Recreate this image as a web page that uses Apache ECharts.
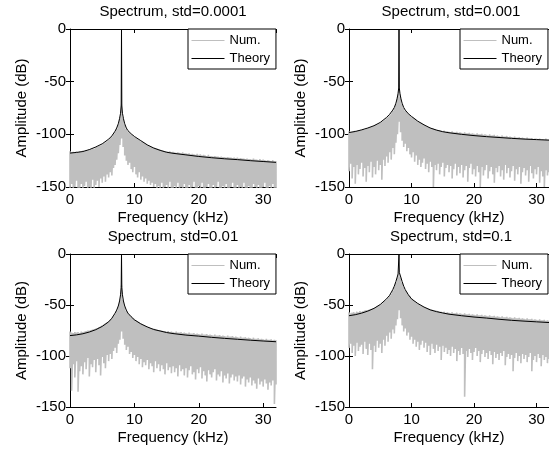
<!DOCTYPE html>
<html><head><meta charset="utf-8">
<script src="https://cdn.jsdelivr.net/npm/echarts@6/dist/echarts.min.js"></script>
<style>html,body{margin:0;padding:0;background:#fff}#c{width:549px;height:450px}</style>
</head><body><div id="c"></div>
<script>
// ---------------- data ----------------
const plotTitles = ['Spectrum, std=0.0001', 'Spectrum, std=0.001', 'Spectrum, std=0.01', 'Spectrum, std=0.1'];
const seriesNames = ['Num.', 'Theory'];
const xAxisName = 'Frequency (kHz)';
const yAxisName = 'Amplitude (dB)';
const xMin = 0, xMax = 32, xStep = 10;
const yMin = -150, yMax = 0, yStep = 50;
const numStepKHz = 0.25; // spacing of the numerical spectrum samples (kHz)

// Theory curve frequencies (kHz)
const thFreq = [0,1,2,3,4,5,6,6.5,7,7.25,7.5,7.7,7.85,7.95,8,8.05,8.15,8.3,8.5,8.75,9,9.5,10,11,12,13,14,15,16,18,20,22,24,26,28,30,32];
const theory1 = [-117.8,-117.2,-116.3,-114.5,-112,-109,-104.6,-101.5,-97,-94,-90,-85,-80,-73,0,-73,-80,-85,-90,-94,-96.5,-99.5,-102,-106,-110,-113,-115.2,-117,-118,-119.5,-121,-122.2,-123.2,-124,-125,-125.8,-126.6];
const theory2 = [-98.3,-97.3,-95.8,-94,-91.8,-88.7,-84,-81,-77,-74.5,-70.5,-66,-61,-56,0,-56,-61,-66,-70.5,-74.5,-77,-80.5,-83,-87.5,-91,-94,-96,-97.5,-98.5,-100,-101.2,-102.2,-103,-103.8,-104.5,-105,-105.5];
const theory3 = [-80,-79.3,-78.2,-76.5,-74.2,-71,-66.5,-63,-58,-55,-51,-46,-40,-33,0,-33,-40,-46,-51,-55,-58,-61.5,-64.5,-68.5,-71.5,-74,-75.5,-77,-78,-79.5,-80.5,-81.7,-82.7,-83.6,-84.5,-85.3,-86];
const theory4 = [-60.5,-59.5,-58,-56,-53.3,-49.5,-44,-40.5,-35,-31.5,-27,-23,-19.5,-18,0,-18,-19.5,-23,-27,-31.5,-35,-40,-44,-48.5,-52,-54.8,-56.5,-57.8,-59,-60.5,-61.8,-62.8,-64,-65,-65.8,-66.5,-67.2];

// Numerical spectrum: upper / lower excursions at every 0.25 kHz (0..32 kHz)
const numHi1 = [-116,-117,-116.5,-117,-116,-117,-116,-116.5,-115.5,-116,-115,-115.5,-114,-114.5,-113.5,-113.5,-112,-112,-111,-110.5,-109.5,-108.5,-107.5,-106.5,-105,-103.5,-102,-100,-97.5,-95,-91,-84,-72,-84,-91,-95,-97,-98.5,-100,-101,-102.5,-103.5,-104.5,-105.5,-106.5,-107,-108,-109,-110,-110.5,-111.5,-112,-112.5,-113,-113.5,-114,-114.5,-115,-115.5,-116,-116,-116.5,-116,-117,-116.5,-117,-117.5,-117,-117.5,-118,-117,-118,-118,-118.5,-118,-119,-118.5,-119,-119.5,-118.5,-119.5,-119,-120,-119.5,-120,-120.5,-119.5,-120.5,-120.5,-121,-120.5,-121,-121,-121.5,-121,-121.5,-121.5,-122,-121.5,-122,-122,-122.5,-122,-122.5,-122,-123,-122.5,-123,-123,-123.5,-123,-123.5,-123.5,-124,-123,-124,-124,-124.5,-123.5,-124.5,-124,-124.5,-125,-124.5,-125,-125.5,-124.5,-125.5,-125.5];
const numLo1 = [-152,-147,-152,-150,-144,-152,-151,-147,-152,-149,-145,-152,-150,-152,-143,-151,-148,-144,-150,-142,-146,-140,-145,-138,-141,-136,-139,-132,-129,-124,-118,-110,-104,-112,-120,-125,-129,-127,-133,-136,-131,-138,-141,-136,-143,-140,-145,-142,-147,-144,-148,-146,-150,-147,-152,-149,-151,-146,-152,-150,-148,-152,-145,-151,-152,-149,-151,-146,-152,-150,-152,-147,-151,-152,-148,-152,-150,-145,-152,-151,-149,-152,-146,-151,-152,-150,-147,-152,-151,-148,-152,-150,-145,-152,-151,-149,-152,-147,-151,-152,-150,-146,-152,-151,-148,-152,-150,-152,-146,-151,-152,-149,-151,-152,-147,-150,-152,-148,-151,-152,-150,-146,-152,-151,-149,-152,-147,-151,-152];
const numHi2 = [-97,-98,-97.5,-97,-96.5,-97,-96,-96.5,-95.5,-95,-95.5,-94.5,-94,-93.5,-93,-92.5,-92,-91,-90.5,-90,-89,-88,-87,-86,-84.5,-83,-82,-80,-77.5,-75,-71,-65,-57,-65,-71,-75,-77.5,-79,-80.5,-82,-83,-84,-85,-86.5,-87.5,-88.5,-89,-90,-91,-91.5,-92.5,-93,-93.5,-94,-94.5,-95,-95.5,-96,-96,-96.5,-97,-96.5,-97.5,-97,-97.5,-98,-97,-98,-98,-97.5,-98.5,-98,-98.5,-99,-98,-99,-99,-98.5,-99.5,-99,-99.5,-100,-99,-100,-100,-99.5,-100.5,-100,-100.5,-101,-100,-101,-101,-100.5,-101.5,-101,-101.5,-102,-101,-102,-102,-101.5,-102.5,-102,-102.5,-103,-102,-103,-103,-102.5,-103.5,-103,-103.5,-104,-103,-104,-104,-103.5,-104.5,-104,-104,-104.5,-104,-105,-104.5,-105,-104,-105,-105];
const numLo2 = [-135,-128,-142,-131,-147,-129,-138,-133,-127,-140,-132,-145,-130,-136,-126,-141,-131,-138,-125,-134,-129,-143,-124,-130,-121,-127,-117,-124,-113,-119,-108,-100,-88,-98,-106,-112,-109,-116,-113,-119,-122,-117,-126,-120,-129,-124,-131,-127,-123,-133,-128,-136,-126,-131,-150,-129,-134,-128,-138,-131,-127,-140,-132,-129,-136,-130,-142,-133,-128,-139,-131,-137,-129,-141,-134,-130,-145,-132,-128,-138,-133,-140,-130,-136,-150,-131,-139,-134,-129,-142,-135,-131,-138,-146,-132,-136,-130,-140,-134,-143,-129,-137,-132,-141,-135,-130,-144,-133,-138,-131,-147,-136,-132,-139,-134,-145,-130,-137,-142,-133,-138,-131,-146,-135,-140,-150,-134,-139,-136];
const numHi3 = [-76,-77,-77.5,-76.5,-77,-76.5,-77.5,-76,-76.5,-76,-75.5,-75,-75,-74.5,-74,-73.5,-73,-72.5,-71.5,-71,-70,-69,-68,-67,-66,-64.5,-63,-61,-58.5,-55.5,-51.5,-45,-31,-45,-51.5,-55.5,-58,-59.5,-61,-62.5,-63.5,-65,-66,-67,-68,-69,-69.5,-70.5,-71,-71.5,-72.5,-73,-73,-73.5,-74,-74.5,-74.5,-75,-75.5,-75.5,-76,-75.5,-76.5,-76,-76.5,-77,-76,-77,-77,-76.5,-77.5,-77,-77.5,-78,-77,-78,-78,-77.5,-78.5,-78,-78.5,-79,-78,-79,-79,-78.5,-79.5,-79,-79.5,-80,-79,-80,-80,-79.5,-80.5,-80,-80.5,-81,-80,-81,-81,-80.5,-81.5,-81,-81.5,-82,-81,-82,-82,-81.5,-82.5,-82,-82.5,-83,-82,-83,-83,-82.5,-83.5,-83,-83.5,-84,-83,-84,-84,-83.5,-84.5,-84,-84.5];
const numLo3 = [-112,-134,-108,-121,-105,-135,-115,-110,-118,-106,-113,-102,-120,-108,-111,-104,-116,-103,-109,-119,-101,-107,-112,-99,-105,-98,-103,-95,-92,-97,-88,-84,-76,-83,-89,-94,-91,-98,-96,-102,-99,-105,-101,-108,-103,-111,-106,-109,-104,-113,-107,-110,-116,-105,-112,-108,-115,-109,-113,-118,-107,-114,-111,-117,-110,-116,-112,-120,-109,-115,-113,-119,-112,-121,-114,-110,-118,-116,-123,-113,-117,-111,-122,-115,-119,-125,-114,-118,-121,-116,-113,-124,-118,-120,-115,-126,-119,-122,-117,-127,-121,-118,-124,-120,-125,-119,-128,-122,-120,-130,-123,-126,-121,-129,-124,-127,-132,-122,-128,-125,-130,-123,-127,-133,-126,-129,-124,-147,-128];
const numHi4 = [-57,-58,-57.5,-57,-57.5,-56.5,-57,-56,-56.5,-56,-55.5,-55,-55,-54.5,-54,-53.5,-53,-52,-51,-50.5,-49.5,-48.5,-47,-46,-44.5,-43,-41,-39,-36,-32.5,-28,-22.5,-18,-22.5,-28,-32.5,-35.5,-37.5,-40,-41.5,-43.5,-45,-46,-47.5,-48.5,-49.5,-50.5,-51,-52,-52.5,-53,-53.5,-54,-54.5,-55,-55.5,-55.5,-56,-56.5,-56.5,-57,-56.5,-57.5,-57,-57.5,-58,-57,-58,-58,-57.5,-58.5,-58,-58.5,-59,-58,-59,-59,-58.5,-59.5,-59,-59.5,-60,-59,-60,-60,-59.5,-60.5,-60,-60.5,-61,-60,-61,-61,-60.5,-61.5,-61,-61.5,-62,-61,-62,-62,-61.5,-62.5,-62,-62.5,-63,-62,-63,-63,-62.5,-63.5,-63,-63.5,-64,-63,-64,-64,-63.5,-64.5,-64,-64.5,-65,-64,-65,-65,-64.5,-65.5,-65,-65.5];
const numLo4 = [-92,-88,-97,-90,-100,-87,-95,-91,-89,-98,-86,-93,-99,-88,-94,-113,-90,-96,-85,-92,-88,-97,-84,-90,-80,-86,-77,-83,-74,-78,-70,-64,-55,-63,-70,-76,-73,-80,-77,-84,-81,-88,-84,-91,-86,-94,-89,-85,-92,-87,-96,-90,-99,-88,-93,-97,-89,-95,-91,-104,-90,-96,-92,-98,-94,-100,-91,-97,-93,-105,-95,-99,-92,-98,-140,-95,-101,-93,-97,-104,-96,-92,-100,-95,-106,-98,-94,-101,-97,-103,-95,-99,-108,-96,-102,-98,-104,-97,-100,-95,-109,-101,-98,-103,-99,-115,-102,-97,-105,-100,-107,-98,-103,-99,-106,-101,-97,-115,-104,-100,-106,-98,-102,-110,-99,-104,-101,-107,-103];

const numHi = [numHi1, numHi2, numHi3, numHi4];
const numLo = [numLo1, numLo2, numLo3, numLo4];
const theory = [theory1, theory2, theory3, theory4];

// ---------------- layout ----------------
const FONT = 'Liberation Sans, Arial, Helvetica, sans-serif';
const grids = [
  {left: 70,  top: 29,  width: 206, height: 158},
  {left: 349, top: 29,  width: 205, height: 158},
  {left: 70,  top: 254, width: 206, height: 153},
  {left: 349, top: 254, width: 205, height: 153}
];
const titlePos = [[173, 4], [451, 4], [173, 229], [451, 229]];
const legendPos = [[188, 29], [460, 29], [188, 254], [460, 254]];

function numSeriesData(hi, lo) {
  const out = [];
  for (let i = 0; i < hi.length; i++) {
    const f = i * numStepKHz;
    out.push([f, hi[i]]);
    out.push([f, lo[i]]);
  }
  return out;
}
function theorySeriesData(vals) {
  return thFreq.map((f, i) => [f, vals[i]]);
}

const axisLineStyle = {color: '#000', width: 1};
const xAxes = [], yAxes = [], series = [];
grids.forEach((g, k) => {
  xAxes.push({
    type: 'value', gridIndex: k, min: xMin, max: xMax, interval: xStep, position: 'bottom',
    name: xAxisName, nameLocation: 'middle', nameGap: 23,
    nameTextStyle: {color: '#000', fontSize: 15, fontFamily: FONT},
    axisLine: {show: true, onZero: false, lineStyle: axisLineStyle},
    axisTick: {show: true, inside: true, length: 4, lineStyle: axisLineStyle},
    axisLabel: {color: '#000', fontSize: 15, fontFamily: FONT, margin: 5, showMaxLabel: false},
    splitLine: {show: false}
  });
  xAxes.push({
    type: 'value', gridIndex: k, min: xMin, max: xMax, interval: xStep, position: 'top',
    axisLine: {show: true, onZero: false, lineStyle: axisLineStyle},
    axisTick: {show: true, inside: true, length: 4, lineStyle: axisLineStyle},
    axisLabel: {show: false}, splitLine: {show: false}
  });
  yAxes.push({
    type: 'value', gridIndex: k, min: yMin, max: yMax, interval: yStep, position: 'left',
    name: yAxisName, nameLocation: 'middle', nameGap: 41, nameRotate: 90,
    nameTextStyle: {color: '#000', fontSize: 15, fontFamily: FONT},
    axisLine: {show: true, onZero: false, lineStyle: axisLineStyle},
    axisTick: {show: true, inside: true, length: 4, lineStyle: axisLineStyle},
    axisLabel: {color: '#000', fontSize: 15, fontFamily: FONT, margin: 4},
    splitLine: {show: false}
  });
  yAxes.push({
    type: 'value', gridIndex: k, min: yMin, max: yMax, interval: yStep, position: 'right',
    axisLine: {show: false},
    axisTick: {show: true, inside: true, length: 4, lineStyle: axisLineStyle},
    axisLabel: {show: false}, splitLine: {show: false}
  });
  series.push({
    name: seriesNames[0], type: 'line', xAxisIndex: 2 * k, yAxisIndex: 2 * k,
    data: numSeriesData(numHi[k], numLo[k]), symbol: 'none', showSymbol: false,
    lineStyle: {color: '#bfbfbf', width: 1.6}, itemStyle: {color: '#bfbfbf'},
    clip: true, silent: true, animation: false, z: 2
  });
  series.push({
    name: seriesNames[1], type: 'line', xAxisIndex: 2 * k, yAxisIndex: 2 * k,
    data: theorySeriesData(theory[k]), symbol: 'none', showSymbol: false,
    lineStyle: {color: '#000', width: 1}, itemStyle: {color: '#000'},
    clip: true, silent: true, animation: false, z: 3
  });
});

const option = {
  backgroundColor: '#fff',
  animation: false,
  title: plotTitles.map((t, k) => ({
    text: t, left: titlePos[k][0], top: titlePos[k][1], textAlign: 'center', padding: 0,
    textStyle: {color: '#000', fontSize: 15, fontWeight: 'normal', fontFamily: FONT}
  })),
  legend: legendPos.map(p => ({
    data: seriesNames, left: p[0], top: p[1], orient: 'vertical',
    itemWidth: 33, itemHeight: 14, itemGap: 5, padding: [5, 6, 4, 3],
    backgroundColor: '#fff', borderColor: '#000', borderWidth: 1, borderRadius: 0,
    selectedMode: false, align: 'left',
    itemStyle: {opacity: 0},
    lineStyle: {width: 1},
    textStyle: {color: '#000', fontSize: 13, fontFamily: FONT}
  })),
  grid: grids.map(g => Object.assign({containLabel: false}, g)),
  xAxis: xAxes,
  yAxis: yAxes,
  series: series
};
const chart = echarts.init(document.getElementById('c'), null, {renderer: 'canvas'});
chart.setOption(option);
</script></body></html>
